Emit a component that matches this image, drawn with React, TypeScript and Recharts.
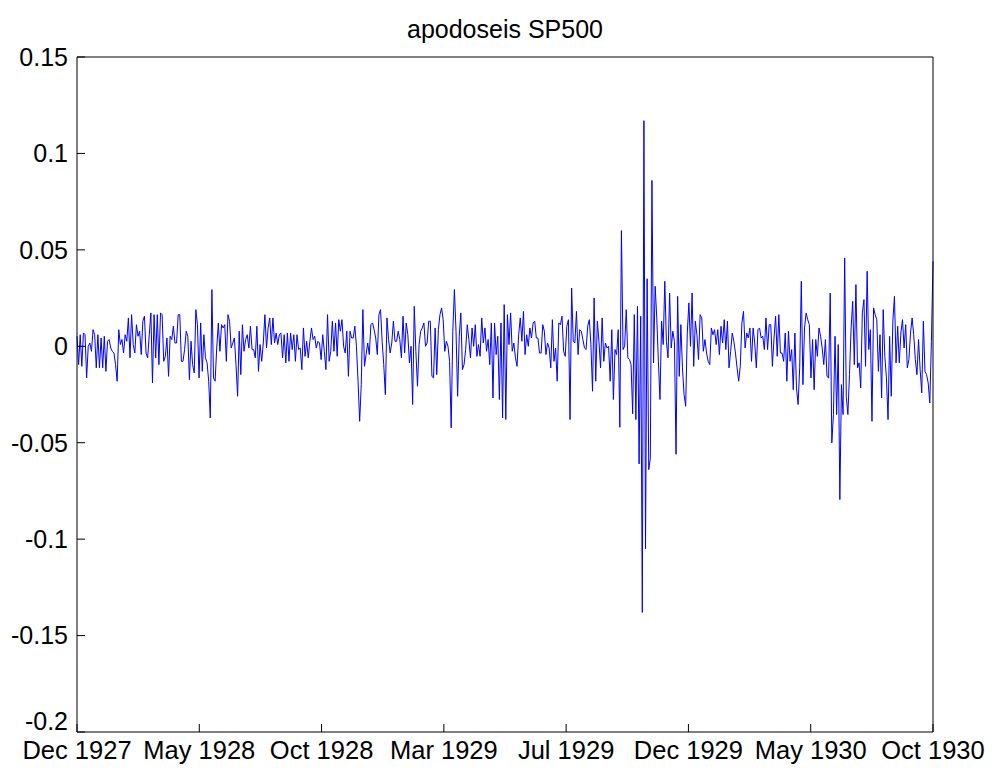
import React from 'react';
import { LineChart, Line, XAxis, YAxis } from 'recharts';

// Daily returns ("apodoseis") of the S&P 500, period by period
const retDec27May28 = [
  0.0052, -0.0095, 0.0060, -0.0104, 0.0069, 0.0060, -0.0164, 0.0000, 0.0017, -0.0026, 0.0086,
  0.0060, -0.0112, 0.0060, -0.0112, 0.0043, -0.0112, 0.0052, -0.0130, 0.0026, 0.0035,
  -0.0009, -0.0026, -0.0035, -0.0095, -0.0181, 0.0086, 0.0009, 0.0035, -0.0035, 0.0060,
  0.0026, 0.0147, -0.0060, 0.0164, 0.0009, -0.0035, 0.0112, 0.0052, 0.0078, -0.0043,
  0.0130, 0.0156, -0.0035, -0.0060, 0.0060, 0.0173, -0.0190, 0.0164, -0.0060, 0.0164,
  -0.0095, 0.0173, 0.0164, -0.0078, -0.0052, 0.0043, -0.0156, 0.0052, 0.0035, 0.0104,
  0.0017, 0.0017, 0.0164, 0.0164, -0.0078,
];
const retMay28Oct28 = [
  -0.0078, -0.0017, 0.0078, 0.0052, -0.0173, 0.0026, -0.0095, -0.0138, 0.0190,
  0.0112, -0.0164, 0.0121, -0.0130, 0.0060, -0.0060, -0.0086, -0.0181, -0.0372, 0.0294,
  -0.0164, -0.0181, -0.0009, 0.0121, -0.0026, 0.0112, 0.0095, 0.0112, -0.0078, 0.0164,
  0.0130, -0.0009, 0.0017, 0.0043, -0.0095, -0.0259, 0.0078, -0.0147, 0.0112, -0.0026, 0.0035,
  0.0060, -0.0009, 0.0104, -0.0017, -0.0017, -0.0060, 0.0104, -0.0130, 0.0009, -0.0078,
  0.0017, 0.0164, -0.0009, 0.0095, 0.0147, 0.0009, 0.0147, 0.0017, 0.0069, 0.0009,
  0.0060, 0.0069, -0.0060, 0.0060, -0.0086, 0.0069,
];
const retOct28Mar29 = [
  -0.0078, 0.0069, -0.0017, 0.0060, -0.0078, 0.0060, -0.0017, -0.0009, -0.0121, 0.0095,
  -0.0052, 0.0026, -0.0060, 0.0026, 0.0095, 0.0035, 0.0052, -0.0009, 0.0026, 0.0017,
  -0.0069, 0.0060, -0.0026, -0.0121, 0.0164, -0.0078, -0.0026, 0.0130, -0.0026, 0.0121,
  -0.0052, 0.0138, 0.0078, 0.0138, 0.0000, -0.0035, 0.0078, -0.0156, 0.0078, 0.0043, 0.0043,
  0.0104, 0.0000, -0.0181, -0.0389, -0.0199, 0.0190, -0.0104, -0.0043, 0.0017, -0.0043,
  0.0112, 0.0121, 0.0086, 0.0043, -0.0043, 0.0164, 0.0190, 0.0026, -0.0095, -0.0251,
  0.0147, 0.0035, -0.0035, 0.0017, 0.0130, 0.0026,
];
const retMar29Jul29 = [
  0.0026, 0.0078, 0.0035, -0.0060, 0.0156, -0.0035, 0.0121, 0.0060, -0.0086, 0.0000,
  -0.0302, 0.0207, -0.0026, -0.0207, 0.0009, 0.0078, 0.0095, 0.0121, 0.0000, 0.0017,
  0.0130, 0.0130, -0.0156, -0.0164, 0.0095, -0.0147, 0.0086, 0.0164, 0.0199, 0.0138,
  -0.0026, 0.0026, 0.0000, -0.0078, -0.0423, 0.0078, 0.0294, 0.0078, -0.0259, 0.0052, 0.0173,
  -0.0121, -0.0095, -0.0017, 0.0112, 0.0035, -0.0060, 0.0095, 0.0000, 0.0112, -0.0052,
  0.0009, -0.0052, 0.0147, 0.0017, 0.0095, -0.0026, 0.0035, -0.0095, 0.0121, -0.0268,
  0.0121, -0.0043, 0.0052, -0.0276, 0.0121, -0.0372,
];
const retJul29Oct29 = [
  0.0216, -0.0380, 0.0164, 0.0009, 0.0173, -0.0026, 0.0017, -0.0060, -0.0104, 0.0060,
  0.0147, 0.0026, 0.0181, -0.0043, 0.0060, 0.0000, 0.0095, 0.0043, 0.0121, 0.0130,
  0.0043, 0.0043, -0.0035, -0.0035, 0.0112, 0.0078, -0.0043, 0.0017, -0.0009, -0.0112,
  0.0138, -0.0078, -0.0009, -0.0181, 0.0121, 0.0112, 0.0156, -0.0026, -0.0052, 0.0104,
  0.0138, -0.0380, 0.0302, 0.0026, 0.0017, 0.0181, -0.0043, 0.0086, 0.0078, 0.0035, -0.0009,
  -0.0017, 0.0104, 0.0138, 0.0009, -0.0233, 0.0251, -0.0181, 0.0130, 0.0026, -0.0112,
  0.0147, -0.0078, 0.0017, -0.0009, 0.0000, -0.0181, 0.0086, -0.0276,
];
const retCrash29 = [
  -0.0017, -0.0043, 0.0086, -0.0420, 0.0600, -0.0017, 0.0000, 0.0190, -0.0060, -0.0069,
  -0.0095, -0.0350, 0.0164, -0.0380, 0.0207, -0.0610, 0.0156, -0.1380, 0.1170, -0.1050,
  0.0350, -0.0640, -0.0580, 0.0860, -0.0086, 0.0311, 0.0147, -0.0078, -0.0276, 0.0130,
  0.0009, 0.0337, 0.0026, -0.0060, 0.0276, -0.0009, 0.0078, 0.0026, -0.0560, 0.0259,
  -0.0156, 0.0112, -0.0112, -0.0251, -0.0311, 0.0069, 0.0225, 0.0000, 0.0276, -0.0104,
  0.0130, 0.0060, -0.0069, 0.0164,
];
const retDec29May30 = [
  0.0147, -0.0026, 0.0035, -0.0035, -0.0078, -0.0095, 0.0095, 0.0060, 0.0086, 0.0009,
  0.0086, -0.0043, 0.0104, 0.0017, 0.0138, -0.0017, 0.0130, -0.0112, -0.0026, 0.0069,
  0.0026, -0.0035, -0.0112, -0.0181, -0.0104, 0.0121, 0.0181, -0.0009, 0.0069,
  0.0043, 0.0095, -0.0078, 0.0095, 0.0017, -0.0112, 0.0086, 0.0095, 0.0043,
  0.0052, -0.0017, 0.0147, -0.0017, 0.0112, 0.0112, -0.0104, 0.0043, 0.0156,
  -0.0052, 0.0164, -0.0035, -0.0035, -0.0078, 0.0069, -0.0181, 0.0078, -0.0078, -0.0017,
  -0.0225, 0.0069, -0.0216, -0.0302, -0.0112, 0.0337, -0.0199, 0.0095, 0.0173, 0.0138,
];
const retMay30Oct30 = [
  0.0112, -0.0164, 0.0035, -0.0225, 0.0035, -0.0052, 0.0095, 0.0052, -0.0009, -0.0095, 0.0035, -0.0156, -0.0164,
  0.0276, -0.0501, -0.0354, 0.0052, -0.0354, 0.0009, -0.0795, -0.0199, -0.0354, 0.0458,
  -0.0259, -0.0354, -0.0147, 0.0095, 0.0233, -0.0095, 0.0320, -0.0112, -0.0086, -0.0216,
  0.0173, 0.0242, -0.0104, 0.0389, -0.0017, 0.0086, -0.0389, 0.0199, 0.0164, 0.0138,
  -0.0130, 0.0060, -0.0268, 0.0190, -0.0052, -0.0164, -0.0380, 0.0052, -0.0259, 0.0130,
  0.0259, -0.0086, 0.0104, -0.0086, 0.0069, 0.0138, -0.0009, 0.0112, -0.0112, -0.0069,
  0.0069, 0.0147, 0.0060, -0.0069, -0.0147, 0.0035, -0.0121, -0.0242, 0.0130, -0.0130,
  -0.0147, -0.0190, -0.0294, 0.0026, 0.0440,
];

const xTickLabels = ['Dec 1927', 'May 1928', 'Oct 1928', 'Mar 1929', 'Jul 1929', 'Dec 1929', 'May 1930', 'Oct 1930'];
const yTicks = [-0.2, -0.15, -0.1, -0.05, 0, 0.05, 0.1, 0.15];

const returns = [
  ...retDec27May28, ...retMay28Oct28, ...retOct28Mar29, ...retMar29Jul29,
  ...retJul29Oct29, ...retCrash29, ...retDec29May30, ...retMay30Oct30,
];
const data = returns.map((v, i) => ({ i, v }));
const lastIndex = returns.length - 1;
const xTicks = xTickLabels.map((_, k) => (k * lastIndex) / (xTickLabels.length - 1));

const FONT = '"Liberation Sans", Arial, Helvetica, sans-serif';

const fmtY = (v: number) => String(Number(v.toFixed(2)));
const fmtX = (v: number) => xTickLabels[Math.round((v * (xTickLabels.length - 1)) / lastIndex)] ?? '';

const YTick = (props: any) => {
  const { x, y, payload } = props;
  const lift = payload.value <= -0.2 ? -11 : 0;
  return (
    <text x={x} y={y + lift} dy="0.355em" textAnchor="end" fill="#000" fontSize={25} fontFamily={FONT}>
      {fmtY(payload.value)}
    </text>
  );
};

export default function App() {
  return (
    <div style={{ position: 'absolute', left: 0, top: 0, width: 994, height: 769, background: '#fff' }}>
      <LineChart width={994} height={769} data={data} margin={{ top: 0, left: 0, right: 0, bottom: 0 }}>
        <XAxis
          xAxisId="bottom" dataKey="i" type="number" domain={[0, lastIndex]} ticks={xTicks}
          tickFormatter={fmtX} interval={0} height={37} tickSize={-8} tickMargin={17}
          axisLine={{ stroke: '#000' }} tickLine={{ stroke: '#000' }}
          tick={{ fill: '#000', fontSize: 25.5, fontFamily: FONT }}
        />
        <XAxis
          xAxisId="top" orientation="top" dataKey="i" type="number" domain={[0, lastIndex]} ticks={xTicks}
          interval={0} height={57} tickSize={-8} tick={false}
          axisLine={{ stroke: '#000' }} tickLine={{ stroke: '#000' }}
        />
        <YAxis
          yAxisId="left" type="number" domain={[-0.2, 0.15]} ticks={yTicks} interval={0}
          width={77} tickSize={-8} tickMargin={17}
          axisLine={{ stroke: '#000' }} tickLine={{ stroke: '#000' }}
          tick={<YTick />}
        />
        <YAxis
          yAxisId="right" orientation="right" type="number" domain={[-0.2, 0.15]} ticks={yTicks} interval={0}
          width={61} tickSize={-8} tick={false}
          axisLine={{ stroke: '#000' }} tickLine={{ stroke: '#000' }}
        />
        <Line
          xAxisId="bottom" yAxisId="left" type="linear" dataKey="v" stroke="#0000ff" strokeWidth={1}
          dot={false} isAnimationActive={false}
        />
      </LineChart>
      <div
        style={{
          position: 'absolute', left: 77, width: 856, top: 17, textAlign: 'center',
          fontFamily: FONT, fontSize: 25, lineHeight: '25px', color: '#000',
        }}
      >
        apodoseis SP500
      </div>
    </div>
  );
}
